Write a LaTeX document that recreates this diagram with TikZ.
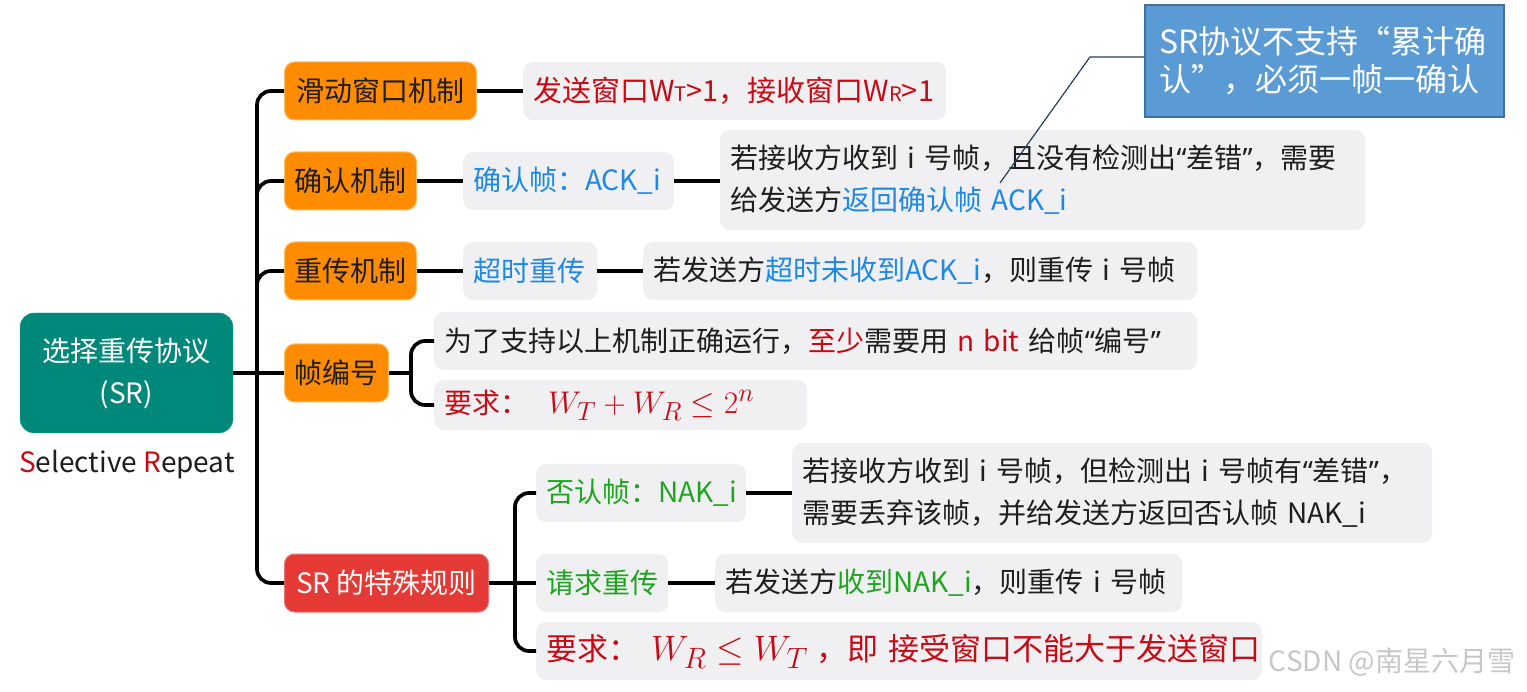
\documentclass[tikz,border=0pt]{standalone}
\usepackage{graphicx}
\usepackage{fontspec}
\setmainfont{Noto Sans CJK SC}
\newfontfamily\latinq{Noto Sans}
\definecolor{tealF}{RGB}{0,137,123}
\definecolor{orangeF}{RGB}{255,140,0}
\definecolor{orangeD}{RGB}{255,190,100}
\definecolor{redF}{RGB}{229,57,53}
\definecolor{grayF}{RGB}{240,240,243}
\definecolor{txtred}{RGB}{200,10,20}
\definecolor{txtblue}{RGB}{30,136,229}
\definecolor{txtgreen}{RGB}{30,165,30}
\definecolor{callF}{RGB}{91,155,213}
\definecolor{callD}{RGB}{65,113,156}
\definecolor{leaderC}{RGB}{40,60,90}
\definecolor{txtC}{RGB}{30,30,30}
\tikzset{
  base/.style={anchor=west, rounded corners=10pt, minimum height=58pt, inner sep=0pt,
    text=txtC, font=\fontsize{28}{42}\selectfont, align=center},
  orangebox/.style={base, fill=orangeF, draw=orangeD, line width=1pt},
  redbox/.style={base, fill=redF, draw=redF!70, line width=1pt, text=white},
  graybox/.style={base, fill=grayF, align=left, inner xsep=10pt},
  rootbox/.style={rounded corners=14pt, fill=tealF, draw=tealF!80, text=white, inner sep=0pt,
    minimum width=213pt, minimum height=120pt, align=center, font=\fontsize{28}{42}\selectfont},
  callbox/.style={rectangle, fill=callF, draw=callD, line width=1.5pt, text=white, inner xsep=14pt,
    text width=331pt, minimum height=112pt, align=left, font=\fontsize{32}{38}\selectfont},
  conn/.style={line width=3.7pt, black, rounded corners=14pt},
  leaderline/.style={line width=1.2pt, leaderC}
}
\newcommand{\smc}[1]{{\fontsize{20}{22}\selectfont #1}}
\newcommand{\bigmath}[2]{{\fontsize{24.88}{30}\selectfont\scalebox{#1}{$#2$}}}
\newcommand{\oneline}[1]{\mbox{#1}}
\newcommand{\oq}{{\latinq “}}
\newcommand{\cq}{{\latinq ”}}
\begin{document}
\begin{tikzpicture}[x=1pt,y=-1pt]
\useasboundingbox[fill=white] (0,0) rectangle (1527,692);

% root
\node[rootbox] (root) at (126.5,373) {选择重传协议\\(SR)};
\node[font=\fontsize{28}{32}\selectfont, text=txtC] (sel) at (127,465) {{\color{txtred}S}elective {\color{txtred}R}epeat};

% level 1
\node[orangebox, minimum width=192pt] (m1) at (284,91) {滑动窗口机制};
\node[orangebox, minimum width=132pt] (m2) at (284,181) {确认机制};
\node[orangebox, minimum width=132pt] (m3) at (284,271) {重传机制};
\node[orangebox, minimum width=104pt] (m4) at (284,373) {帧编号};
\node[redbox, minimum width=204pt] (m5) at (284,583) {SR 的特殊规则};

% level 2/3
\node[graybox, text width=403pt, text=txtred, font=\fontsize{29}{42}\selectfont] (g1) at (523,91) {\oneline{发送窗口W\smc{T}>1，接收窗口W\smc{R}>1}};
\node[graybox, text width=191pt, text=txtblue] (g2) at (463,181) {\oneline{确认帧：ACK\_i}};
\node[graybox, text width=625pt, minimum height=100pt] (g3) at (720,180)
  {\oneline{若接收方收到 i 号帧，且没有检测出\oq 差错\cq，需要}\\\oneline{给发送方{\color{txtblue}返回确认帧 ACK\_i}}};
\node[graybox, text width=114pt, text=txtblue] (g4) at (463,271) {\oneline{超时重传}};
\node[graybox, text width=534pt] (g5) at (643,271) {\oneline{若发送方{\color{txtblue}超时未收到ACK\_i}，则重传 i 号帧}};
\node[graybox, text width=743pt] (g6) at (434,341) {\oneline{为了支持以上机制正确运行，{\color{txtred}至少}需要用 {\color{txtred}n bit} 给帧\oq 编号\cq}};
\node[graybox, text width=353pt, minimum height=50pt, text=txtred] (g7) at (434,405) {\oneline{要求：\hspace{20pt}\bigmath{1.26}{W_T+W_R\le 2^n}}};
\node[graybox, text width=190pt, text=txtgreen] (g8) at (536,493) {\oneline{否认帧：NAK\_i}};
\node[graybox, text width=620pt, minimum height=100pt] (g9) at (792,493)
  {\oneline{若接收方收到 i 号帧，但检测出 i 号帧有\oq 差错\cq，}\\\oneline{需要丢弃该帧，并给发送方返回否认帧 NAK\_i}};
\node[graybox, text width=112pt, text=txtgreen] (g10) at (536,583) {\oneline{请求重传}};
\node[graybox, text width=447pt] (g11) at (715,583) {\oneline{若发送方{\color{txtgreen}收到NAK\_i}，则重传 i 号帧}};
\node[graybox, text width=706pt, text=txtred, font=\fontsize{31}{42}\selectfont] (g12) at (536,651) {\oneline{要求：\hspace{12pt}\bigmath{1.42}{W_R\le W_T}\hspace{8pt}，即 接受窗口不能大于发送窗口}};

% callout
\node[callbox] (call) at (1324.5,61) {SR协议不支持“累计确\\认”，必须一帧一确认};
\coordinate (k1) at (1090,57);
\coordinate (k2) at (1000,183);
\draw[leaderline] (call.west |- k1) -- (k1) -- (k2);

% watermark
\node[font=\fontsize{28}{32}\selectfont, text=black!22] (wm) at (1392,662) {CSDN @南星六月雪};

% connectors
\coordinate (t0) at (257,373);
\draw[conn] (root.east) -- (m4.west);
\draw[conn] (m1.west) -| (t0) |- (m5.west);
\draw[conn] (257,300) |- (m2.west);
\draw[conn] (257,330) |- (m3.west);
\draw[conn] (m1.east) -- (g1.west);
\draw[conn] (m2.east) -- (g2.west);
\draw[conn] (g2.east) -- (g2.east -| g3.west);
\draw[conn] (m3.east) -- (g4.west);
\draw[conn] (g4.east) -- (g5.west);
\coordinate (b4) at (411,373);
\draw[conn] (m4.east) -- (b4);
\draw[conn] (b4) |- (g6.west);
\draw[conn] (b4) |- (g7.west);
\coordinate (b5) at (515,583);
\draw[conn] (m5.east) -- (g10.west);
\draw[conn] (b5) |- (g8.west);
\draw[conn] (b5) |- (g12.west);
\draw[conn] (g8.east) -- (g8.east -| g9.west);
\draw[conn] (g10.east) -- (g11.west);
\end{tikzpicture}
\end{document}
